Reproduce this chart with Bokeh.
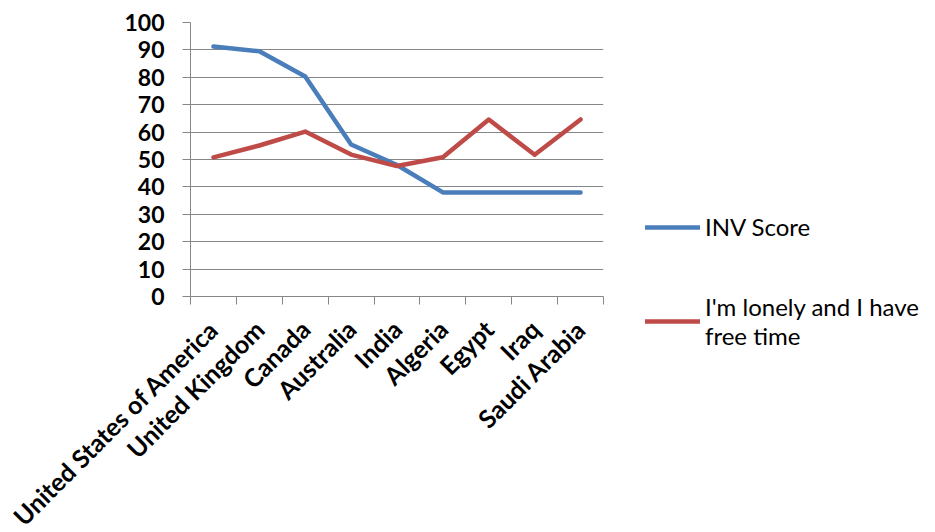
import numpy as np
from math import pi
from bokeh.plotting import figure
from bokeh.models import Range1d, FixedTicker, Legend, LegendItem
from bokeh.embed import file_html
from bokeh.resources import INLINE

categories = ["United States of America", "United Kingdom", "Canada", "Australia",
              "India", "Algeria", "Egypt", "Iraq", "Saudi Arabia"]
inv_score = [91.2, 89.5, 80.3, 55.5, 48.0, 38.0, 38.0, 38.0, 38.0]
lonely = [50.8, 55.1, 60.2, 51.8, 47.6, 50.8, 64.6, 51.7, 64.6]
y_ticks = list(range(0, 101, 10))

n = len(categories)
xs = np.arange(n) + 0.5

p = figure(frame_width=413, frame_height=274, output_backend="svg", toolbar_location=None,
           x_range=Range1d(0, n), y_range=Range1d(0, 100),
           min_border_left=190, min_border_right=0, min_border_top=22, min_border_bottom=236)
p.outline_line_color = None
p.background_fill_color = "white"

r1 = p.line(xs, inv_score, line_color="#4A7EBB", line_width=4.5, line_join="round", line_cap="round")
r2 = p.line(xs, lonely, line_color="#BE4B48", line_width=4.5, line_join="round", line_cap="round")

font = "Lato"
xa = p.xaxis[0]
xa.ticker = FixedTicker(ticks=list(xs), minor_ticks=list(range(n + 1)))
xa.major_label_overrides = {float(x): c for x, c in zip(xs, categories)}
xa.major_label_orientation = pi / 4
xa.major_tick_out = 0
xa.major_tick_in = 0
xa.minor_tick_out = 8
xa.minor_tick_in = 0
xa.minor_tick_line_color = "#868686"
xa.axis_line_color = "#868686"
xa.major_label_text_font = font
xa.major_label_text_font_style = "bold"
xa.major_label_text_font_size = "25px"
xa.major_label_text_color = "black"
xa.major_label_standoff = 20

ya = p.yaxis[0]
ya.ticker = FixedTicker(ticks=y_ticks)
ya.minor_tick_line_color = None
ya.major_tick_out = 8
ya.major_tick_in = 0
ya.major_tick_line_color = "#868686"
ya.axis_line_color = "#868686"
ya.major_label_text_font = font
ya.major_label_text_font_style = "bold"
ya.major_label_text_font_size = "23px"
ya.major_label_text_color = "black"
ya.major_label_standoff = 18

p.xgrid.grid_line_color = None
p.ygrid.ticker = FixedTicker(ticks=y_ticks)
p.ygrid.grid_line_color = "#868686"
p.ygrid.grid_line_width = 1

legend = Legend(items=[LegendItem(label="INV Score", renderers=[r1]),
                       LegendItem(label="I'm lonely and I have\nfree time", renderers=[r2])],
                location=(42, -54), border_line_color=None, background_fill_alpha=0,
                glyph_width=55, glyph_height=20, label_standoff=5, spacing=51,
                padding=0, margin=0,
                label_text_font=font, label_text_font_size="24px", label_text_color="black")
p.add_layout(legend, "right")

open("out.html", "w").write(file_html(p, INLINE))
